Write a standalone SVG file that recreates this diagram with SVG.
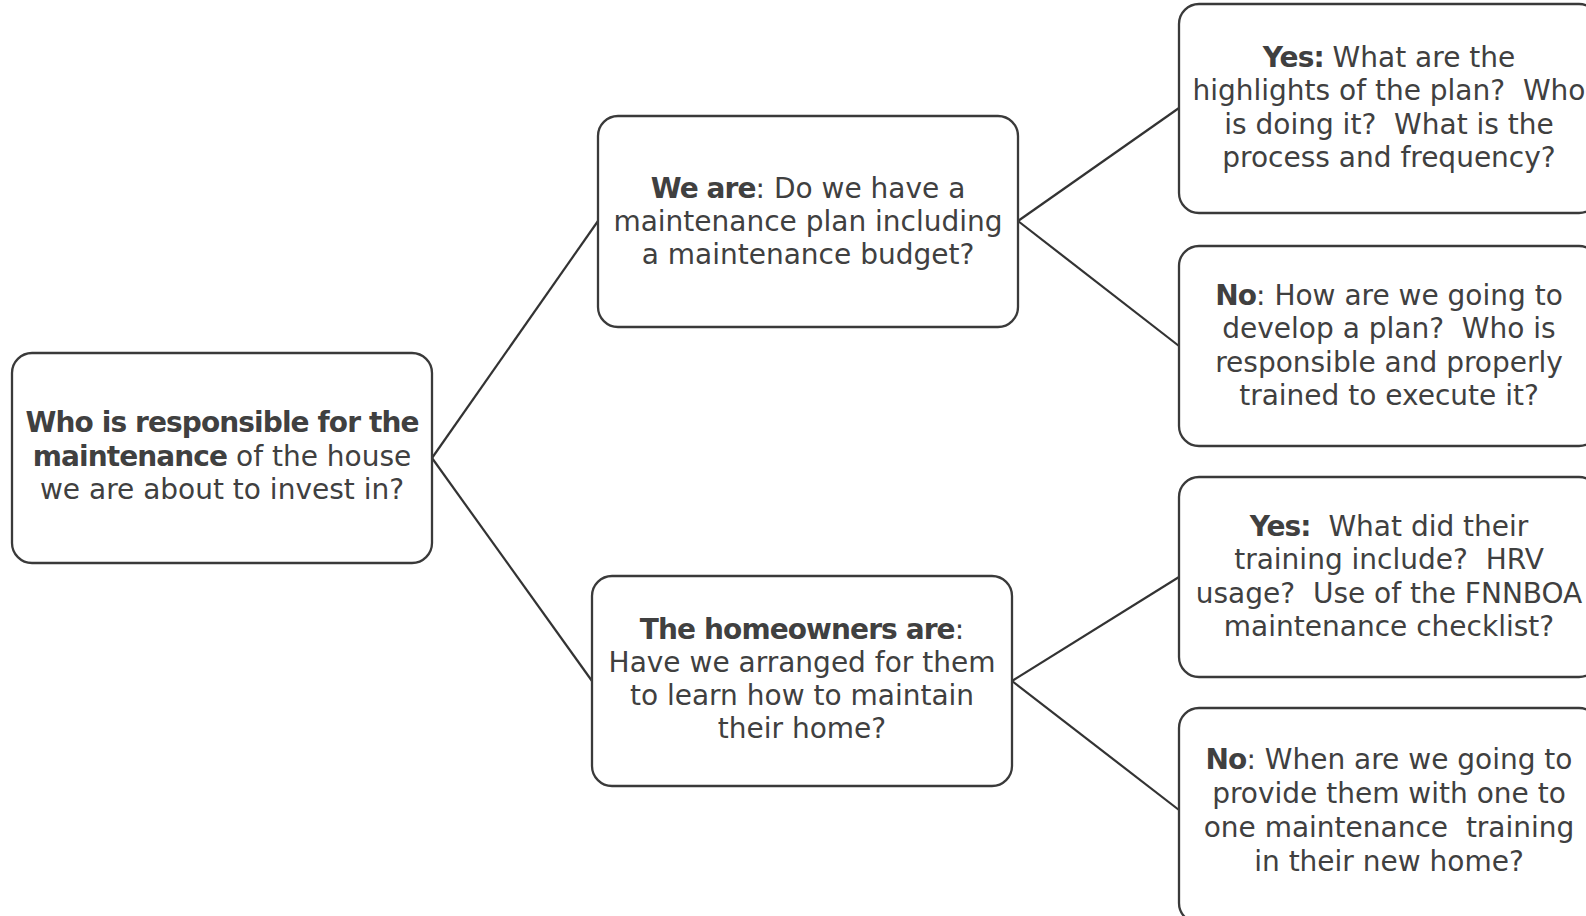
<svg xmlns="http://www.w3.org/2000/svg" width="1586" height="916" viewBox="0 0 1586 916">
<style>
.box{fill:#fff;stroke:#3a3a3a;stroke-width:2.3}
.con{fill:none;stroke:#333;stroke-width:2.2}
text{font-family:"DejaVu Sans",Verdana,sans-serif;font-size:28px;fill:#404040;text-anchor:middle;white-space:pre}
.b{font-weight:bold;letter-spacing:-0.9px}
</style>
<rect width="1586" height="916" fill="#fff"/>
<g id="connectors">
<line class="con" x1="432" y1="458" x2="598" y2="221"/>
<line class="con" x1="432" y1="458" x2="592" y2="681"/>
<line class="con" x1="1018" y1="221" x2="1179" y2="108"/>
<line class="con" x1="1018" y1="221" x2="1179" y2="346"/>
<line class="con" x1="1012" y1="681" x2="1179" y2="577"/>
<line class="con" x1="1012" y1="681" x2="1179" y2="810"/>
</g>
<g id="root">
<rect class="box" x="12" y="353" width="420" height="210" rx="20"/>
<text x="222" y="432"><tspan class="b">Who is responsible for the</tspan></text>
<text x="222" y="466"><tspan class="b">maintenance</tspan> of the house</text>
<text x="222" y="499">we are about to invest in?</text>
</g>
<g id="we-are">
<rect class="box" x="598" y="116" width="420" height="211" rx="20"/>
<text x="808" y="198"><tspan class="b">We are</tspan>: Do we have a</text>
<text x="808" y="231">maintenance plan including</text>
<text x="808" y="264">a maintenance budget?</text>
</g>
<g id="homeowners">
<rect class="box" x="592" y="576" width="420" height="210" rx="20"/>
<text x="802" y="639"><tspan class="b">The homeowners are</tspan>:</text>
<text x="802" y="672">Have we arranged for them</text>
<text x="802" y="705">to learn how to maintain</text>
<text x="802" y="738">their home?</text>
</g>
<g id="we-yes">
<rect class="box" x="1179" y="4" width="420" height="209" rx="20"/>
<text x="1389" y="67"><tspan class="b">Yes:</tspan> What are the</text>
<text x="1389" y="100">highlights of the plan?  Who</text>
<text x="1389" y="133.5">is doing it?  What is the</text>
<text x="1389" y="167">process and frequency?</text>
</g>
<g id="we-no">
<rect class="box" x="1179" y="246" width="420" height="200" rx="20"/>
<text x="1389" y="304.5"><tspan class="b">No</tspan>: How are we going to</text>
<text x="1389" y="338">develop a plan?  Who is</text>
<text x="1389" y="371.5">responsible and properly</text>
<text x="1389" y="405">trained to execute it?</text>
</g>
<g id="home-yes">
<rect class="box" x="1179" y="477" width="420" height="200" rx="20"/>
<text x="1389" y="535.5"><tspan class="b">Yes:</tspan>  What did their</text>
<text x="1389" y="569">training include?  HRV</text>
<text x="1389" y="602.5">usage?  Use of the FNNBOA</text>
<text x="1389" y="636">maintenance checklist?</text>
</g>
<g id="home-no">
<rect class="box" x="1179" y="708" width="420" height="215" rx="20"/>
<text x="1389" y="769"><tspan class="b">No</tspan>: When are we going to</text>
<text x="1389" y="803">provide them with one to</text>
<text x="1389" y="837">one maintenance  training</text>
<text x="1389" y="871">in their new home?</text>
</g>
</svg>
